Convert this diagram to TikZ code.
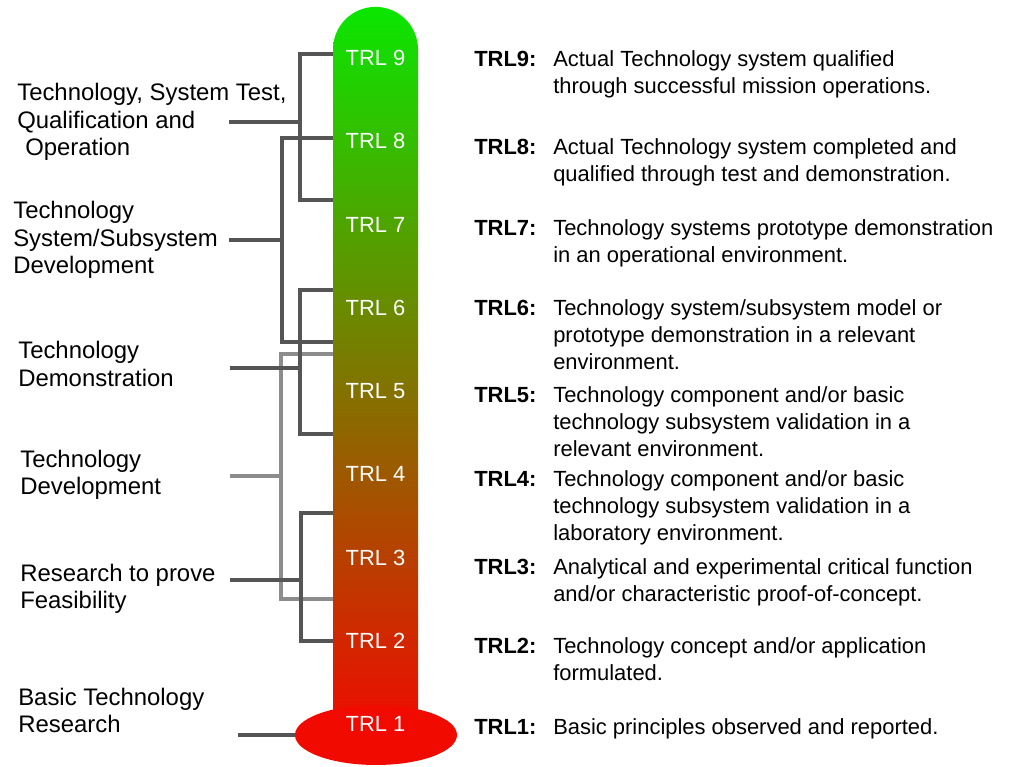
\documentclass[tikz,border=0pt]{standalone}
\usepackage{fontspec}
\setmainfont{Liberation Sans}
\usetikzlibrary{shapes.geometric}
\definecolor{fgbody}{HTML}{000000}
\definecolor{trlgreen}{HTML}{0AE600}
\definecolor{trlred}{HTML}{F00A00}
\definecolor{brkdark}{HTML}{555555}
\definecolor{brklight}{HTML}{8C8C8C}

\begin{document}
\begin{tikzpicture}[
  phase/.style={anchor=west, inner sep=0pt, align=left, text=fgbody, font=\fontsize{17}{19.6}\selectfont},
  desc/.style={anchor=west, inner sep=0pt, text=fgbody, font=\fontsize{15.6}{19.2}\selectfont},
  trl/.style={text=white, inner sep=0pt, font=\fontsize{15.6}{18}\selectfont},
  brk/.style={draw=brkdark, line width=2.3pt},
  brklt/.style={draw=brklight, line width=2.3pt},
]
\useasboundingbox (0,0) rectangle (25.375,19.175);

% thermometer
\shade[top color=trlgreen, bottom color=trlred]
  (8.325,0.8) -- (8.325,17.94) arc[start angle=180, end angle=0, radius=1.0625] -- (10.45,0.8) -- cycle;
\node[ellipse, fill=trlred, minimum width=4.05cm, minimum height=1.5cm, inner sep=0pt] (bulb) at (9.4,0.8) {};

% levels on the tube
\node[trl] (trl1) at (9.39,1.075) {TRL 1};
\node[trl] (trl2) at (9.39,3.156) {TRL 2};
\node[trl] (trl3) at (9.39,5.238) {TRL 3};
\node[trl] (trl4) at (9.39,7.319) {TRL 4};
\node[trl] (trl5) at (9.39,9.4) {TRL 5};
\node[trl] (trl6) at (9.39,11.481) {TRL 6};
\node[trl] (trl7) at (9.39,13.563) {TRL 7};
\node[trl] (trl8) at (9.39,15.644) {TRL 8};
\node[trl] (trl9) at (9.39,17.725) {TRL 9};

% phases (left)
\node[phase] (ops) at (0.425,16.125) {Technology, System Test,\\Qualification and\\\hspace{0.2cm}Operation};
\node[phase] (sysdev) at (0.325,13.175) {Technology\\System/Subsystem\\Development};
\node[phase] (demo) at (0.45,10.075) {Technology\\Demonstration};
\node[phase] (techdev) at (0.5,7.3) {Technology\\Development};
\node[phase] (feas) at (0.5,4.45) {Research to prove\\Feasibility};
\node[phase] (basic) at (0.45,1.4125) {Basic Technology\\Research};

% bracket ends on the tube
\coordinate (opsT) at (8.325,17.825);  \coordinate (opsB) at (8.325,14.175);
\coordinate (opsJ) at (7.5,16.125);    \coordinate (opsS) at (5.725,16.125);
\coordinate (sysT) at (8.325,15.725);  \coordinate (sysB) at (8.325,10.625);
\coordinate (sysJ) at (7.05,13.175);   \coordinate (sysS) at (5.725,13.175);
\coordinate (demT) at (8.325,11.925);  \coordinate (demB) at (8.325,8.325);
\coordinate (demJ) at (7.5,9.975);     \coordinate (demS) at (5.75,9.975);
\coordinate (devT) at (8.325,10.325);  \coordinate (devB) at (8.325,4.2);
\coordinate (devJ) at (7.025,7.275);   \coordinate (devS) at (5.75,7.275);
\coordinate (feaT) at (8.325,6.35);    \coordinate (feaB) at (8.325,3.15);
\coordinate (feaJ) at (7.525,4.675);   \coordinate (feaS) at (5.75,4.675);
\coordinate (basS) at (5.95,0.8);

% brackets
\draw[brklt] (devT) -| (devJ) |- (devB);
\draw[brklt] (devS) -- (devJ);
\draw[brk] (opsT) -| (opsJ) |- (opsB);
\draw[brk] (opsS) -- (opsJ);
\draw[brk] (sysT) -| (sysJ) |- (sysB);
\draw[brk] (sysS) -- (sysJ);
\draw[brk] (demT) -| (demJ) |- (demB);
\draw[brk] (demS) -- (demJ);
\draw[brk] (feaT) -| (feaJ) |- (feaB);
\draw[brk] (feaS) -- (feaJ);
\draw[brk] (basS) -- (bulb.west);

% level descriptions (right)
\node[desc] (d9) at (11.85,17.3125) {\begin{tabular}{@{}p{1.975cm}@{}l@{}}\textbf{TRL9:} & Actual Technology system qualified\\ & through successful mission operations.\end{tabular}};
\node[desc] (d8) at (11.85,15.1125) {\begin{tabular}{@{}p{1.975cm}@{}l@{}}\textbf{TRL8:} & Actual Technology system completed and\\ & qualified through test and demonstration.\end{tabular}};
\node[desc] (d7) at (11.85,13.0875) {\begin{tabular}{@{}p{1.975cm}@{}l@{}}\textbf{TRL7:} & Technology systems prototype demonstration\\ & in an operational environment.\end{tabular}};
\node[desc] (d6) at (11.85,10.75) {\begin{tabular}{@{}p{1.975cm}@{}l@{}}\textbf{TRL6:} & Technology system/subsystem model or\\ & prototype demonstration in a relevant\\ & environment.\end{tabular}};
\node[desc] (d5) at (11.85,8.575) {\begin{tabular}{@{}p{1.975cm}@{}l@{}}\textbf{TRL5:} & Technology component and/or basic\\ & technology subsystem validation in a\\ & relevant environment.\end{tabular}};
\node[desc] (d4) at (11.85,6.475) {\begin{tabular}{@{}p{1.975cm}@{}l@{}}\textbf{TRL4:} & Technology component and/or basic\\ & technology subsystem validation in a\\ & laboratory environment.\end{tabular}};
\node[desc] (d3) at (11.85,4.6125) {\begin{tabular}{@{}p{1.975cm}@{}l@{}}\textbf{TRL3:} & Analytical and experimental critical function\\ & and/or characteristic proof-of-concept.\end{tabular}};
\node[desc] (d2) at (11.85,2.6375) {\begin{tabular}{@{}p{1.975cm}@{}l@{}}\textbf{TRL2:} & Technology concept and/or application\\ & formulated.\end{tabular}};
\node[desc] (d1) at (11.85,0.95) {\begin{tabular}{@{}p{1.975cm}@{}l@{}}\textbf{TRL1:} & Basic principles observed and reported.\end{tabular}};
\end{tikzpicture}
\end{document}
